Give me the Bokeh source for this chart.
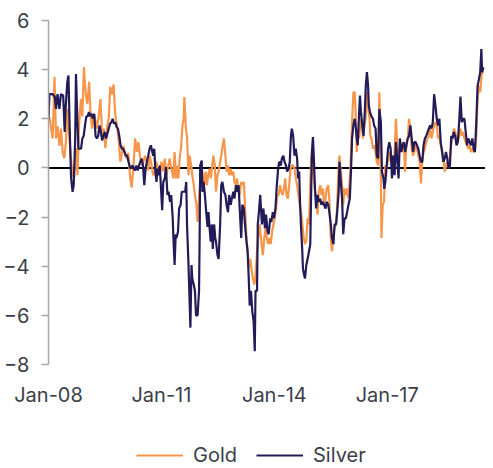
from bokeh.plotting import figure
from bokeh.layouts import column
from bokeh.models import Range1d, FixedTicker, Span, Legend, LegendItem
from bokeh.embed import file_html
from bokeh.resources import INLINE

# ---- data (decimal years) ----
gold_t = [
    2008.00, 2008.03, 2008.07, 2008.11, 2008.16, 2008.20, 2008.24, 2008.29, 2008.33, 2008.38,
    2008.42, 2008.46, 2008.51, 2008.53, 2008.59, 2008.64, 2008.68, 2008.73, 2008.77, 2008.81,
    2008.86, 2008.90, 2008.94, 2008.99, 2009.03, 2009.08, 2009.12, 2009.16, 2009.21, 2009.25,
    2009.29, 2009.34, 2009.38, 2009.43, 2009.47, 2009.51, 2009.56, 2009.60, 2009.64, 2009.69,
    2009.73, 2009.77, 2009.82, 2009.86, 2009.91, 2009.95, 2009.99, 2010.04, 2010.08, 2010.12,
    2010.17, 2010.21, 2010.26, 2010.30, 2010.35, 2010.39, 2010.43, 2010.48, 2010.52, 2010.56,
    2010.61, 2010.65, 2010.69, 2010.74,
    2010.78, 2010.83, 2010.87, 2010.91, 2010.96, 2011.00, 2011.04, 2011.09, 2011.13, 2011.17,
    2011.22, 2011.25, 2011.28, 2011.32, 2011.35, 2011.39, 2011.42, 2011.45, 2011.49, 2011.52,
    2011.56, 2011.59, 2011.61, 2011.65, 2011.68, 2011.72, 2011.75, 2011.79, 2011.82, 2011.86,
    2011.89, 2011.93, 2011.96, 2012.00, 2012.03, 2012.07, 2012.10, 2012.14, 2012.17, 2012.21,
    2012.24, 2012.28, 2012.31, 2012.35, 2012.38, 2012.42, 2012.45, 2012.49, 2012.52, 2012.56,
    2012.59, 2012.63, 2012.66, 2012.70, 2012.73, 2012.77, 2012.80, 2012.84, 2012.87, 2012.91,
    2012.94, 2012.98, 2013.01, 2013.05, 2013.08, 2013.12, 2013.15, 2013.19, 2013.22, 2013.26,
    2013.29, 2013.33, 2013.36, 2013.40, 2013.43, 2013.47, 2013.50, 2013.54, 2013.57, 2013.61,
    2013.66, 2013.695, 2013.73, 2013.765, 2013.80, 2013.835, 2013.87, 2013.905, 2013.94, 2013.975,
    2014.01, 2014.045, 2014.08, 2014.115, 2014.15, 2014.185, 2014.22, 2014.255, 2014.29, 2014.325,
    2014.36, 2014.395, 2014.43, 2014.465, 2014.50, 2014.535, 2014.57, 2014.605, 2014.64, 2014.675,
    2014.71, 2014.745, 2014.78, 2014.815, 2014.85, 2014.885, 2014.92, 2014.955, 2014.98, 2015.01,
    2015.04, 2015.08, 2015.11, 2015.15, 2015.18, 2015.22, 2015.25, 2015.29, 2015.32, 2015.36,
    2015.39, 2015.43, 2015.46, 2015.50, 2015.53, 2015.57, 2015.60, 2015.64, 2015.67, 2015.71,
    2015.73, 2015.76, 2015.80, 2015.83, 2015.865, 2015.90, 2015.935, 2015.97, 2016.005, 2016.04,
    2016.065, 2016.10, 2016.135, 2016.16, 2016.19, 2016.215, 2016.25, 2016.285, 2016.32, 2016.355,
    2016.39, 2016.425, 2016.46, 2016.495,
    2016.53, 2016.55, 2016.58, 2016.62, 2016.65, 2016.69, 2016.72, 2016.757, 2016.79, 2016.82,
    2016.845, 2016.88, 2016.915, 2016.95, 2016.985, 2017.02, 2017.055, 2017.09, 2017.125, 2017.16,
    2017.195, 2017.23, 2017.265, 2017.30, 2017.335, 2017.37, 2017.405, 2017.44, 2017.475, 2017.51,
    2017.545, 2017.58, 2017.615, 2017.65, 2017.685, 2017.72, 2017.755, 2017.79, 2017.825, 2017.86,
    2017.895, 2017.93, 2017.965, 2018.00, 2018.035, 2018.07, 2018.105, 2018.14, 2018.175, 2018.21,
    2018.245, 2018.28, 2018.315, 2018.35, 2018.385, 2018.42, 2018.455, 2018.49, 2018.525, 2018.56,
    2018.595, 2018.63, 2018.665, 2018.70, 2018.735, 2018.77, 2018.805, 2018.84, 2018.875, 2018.91,
    2018.945, 2018.98, 2019.015, 2019.05, 2019.085, 2019.12, 2019.155, 2019.19, 2019.225, 2019.26,
    2019.295, 2019.33, 2019.365, 2019.40, 2019.435, 2019.47, 2019.505, 2019.53, 2019.556,
]
gold_v = [
    2.0, 2.05, 1.6, 1.2, 3.7, 1.2, 1.7, 0.9, 1.6, 0.6,
    0.4, 1.0, 2.4, 1.8, 0.5, -0.3, -0.4, 0.8, -0.3, 1.7,
    2.8, 2.1, 4.1, 3.0, 2.6, 3.5, 2.1, 1.6, 2.2, 1.9,
    1.6, 2.2, 2.8, 1.2, 1.6, 0.8, 1.7, 2.0, 3.3, 3.0,
    3.4, 2.2, 1.7, 1.2, 0.25, 0.6, 0.9, 0.5, 0.4, 0.6,
    -0.4, -0.8, 0.1, 1.2, 0.65, 1.05, 0.5, 0.1, 0.25, 0.5,
    0.25, -0.1, 0.5, 0.1,
    -0.3, -0.15, 0.25, -0.15, -0.15, 0.25, -0.15, 0.38, -0.3, 0.0,
    0.38, 0.1, -0.15, -0.43, 0.65, -0.43, 0.1, -0.43, 0.5, 0.8,
    1.73, 2.0, 2.88, 1.6, 1.3, -0.3, 0.5, 0.1, -0.3, -0.7,
    -1.1, -1.5, -2.2, -1.25, -0.57, 0.1, -0.43, -0.7, -0.15, -0.7,
    -0.3, -0.03, -0.43, 0.1, 0.5, 0.1, -0.97, -0.3, -0.15, 0.25,
    0.5, 0.92, 1.2, 0.5, -0.15, 0.1, -0.3, -0.03, -0.3, -0.15,
    -0.57, -0.7, -0.43, -0.97, -1.1, -0.57, -0.7, -0.57, -1.5, -2.85,
    -3.4, -4.05, -3.7, -4.2, -4.5, -4.75, -4.35, -3.4, -2.85, -2.3,
    -3.1, -3.55, -2.9, -2.45, -2.85, -3.1, -2.85, -3.1, -2.6, -2.3,
    -2.05, -1.65, -1.1, -1.1, -0.7, -0.97, -1.1, -0.84, -0.43, -1.1,
    -1.25, -0.7, -0.03, 0.1, 0.1, -0.03, -0.43, -0.7, -1.1, -1.5,
    -1.8, -2.3, -2.85, -3.1, -2.95, -2.05, -2.3, -0.7, 0.5, 0.1,
    -0.3, -0.97, -1.25, -1.9, -0.97, -0.7, -1.1, -0.84, -1.5, -1.25,
    -0.84, -0.7, -1.25, -2.85, -3.4, -2.85, -2.45, -2.3, -1.5, 0.1,
    0.5, -0.03, -0.7, -1.5, -0.84, -1.1, -0.84, -1.25, -0.43, 0.65,
    1.86, 3.08, 3.08, 2.27, 0.65, 1.46, 1.2, 1.73, 2.0, 1.2,
    1.73, 2.0, 3.08, 2.4,
    2.0, 1.3, 1.2, 0.78, 0.92, 0.65, 0.25, 0.1, 3.08, 1.2,
    -2.85, -1.5, -1.38, 0.1, -0.03, 0.38, 0.65, 0.25, 0.5, 0.1,
    0.65, 2.0, 0.92, 0.5, 0.78, 1.05, 0.65, 0.92, -0.15, 1.05,
    1.2, 2.0, 1.6, 0.78, 0.5, 0.65, 0.92, 0.78, 0.5, 0.25,
    -0.63, 0.25, 0.65, 0.78, 1.05, 1.2, 1.3, 1.6, 1.2, 1.46,
    1.73, 1.86, 1.73, 1.2, 1.3, 0.92, 0.78, 0.38, -0.15, 0.1,
    0.25, 0.1, 0.5, 0.92, 1.3, 1.6, 1.46, 1.2, 1.05, 1.3,
    1.6, 1.3, 1.46, 1.2, 1.05, 0.92, 0.78, 0.92, 0.65, 0.78,
    0.65, 0.78, 1.3, 2.8, 3.35, 3.08, 3.75, 3.9, 3.9,
]

silver_t = [
    2008.00, 2008.025, 2008.11, 2008.165, 2008.20, 2008.24, 2008.29, 2008.33, 2008.39, 2008.43,
    2008.46, 2008.50, 2008.53, 2008.57, 2008.60, 2008.64, 2008.67, 2008.71, 2008.73, 2008.77,
    2008.795, 2008.83, 2008.865, 2008.90, 2008.935, 2008.97, 2009.005, 2009.04, 2009.075, 2009.11,
    2009.145, 2009.18, 2009.215, 2009.25, 2009.285, 2009.32, 2009.355, 2009.39, 2009.425, 2009.46,
    2009.495, 2009.53, 2009.565, 2009.60, 2009.635, 2009.67, 2009.705, 2009.74, 2009.775, 2009.81,
    2009.845, 2009.88, 2009.915, 2009.95, 2009.985, 2010.02, 2010.055, 2010.09, 2010.125, 2010.16,
    2010.195, 2010.23, 2010.265, 2010.30, 2010.335, 2010.37, 2010.405, 2010.44, 2010.475, 2010.51,
    2010.545, 2010.58, 2010.615, 2010.65, 2010.685, 2010.72,
    2010.78, 2010.81, 2010.84, 2010.87, 2010.895, 2010.93, 2010.955, 2010.98, 2011.02, 2011.05,
    2011.09, 2011.12, 2011.16, 2011.19, 2011.23, 2011.26, 2011.30, 2011.32, 2011.35, 2011.38,
    2011.40, 2011.44, 2011.47, 2011.51, 2011.54, 2011.59, 2011.63, 2011.66, 2011.68, 2011.72,
    2011.74, 2011.77, 2011.80, 2011.82, 2011.86, 2011.89, 2011.92, 2011.96, 2012.00, 2012.015,
    2012.03, 2012.07, 2012.09, 2012.12, 2012.155, 2012.19, 2012.225, 2012.25, 2012.28, 2012.31,
    2012.34, 2012.365, 2012.40, 2012.43, 2012.45, 2012.49, 2012.52, 2012.56, 2012.59, 2012.62,
    2012.66, 2012.70, 2012.73, 2012.77, 2012.80, 2012.84, 2012.87, 2012.91, 2012.94, 2012.98,
    2013.01, 2013.05, 2013.08, 2013.12, 2013.15, 2013.19, 2013.22, 2013.26, 2013.29, 2013.32,
    2013.345, 2013.38, 2013.415, 2013.45, 2013.48, 2013.50, 2013.54, 2013.56, 2013.59, 2013.625,
    2013.67, 2013.71, 2013.75, 2013.78, 2013.82, 2013.85, 2013.89, 2013.92, 2013.96, 2013.99,
    2014.03, 2014.06, 2014.10, 2014.13, 2014.17, 2014.20, 2014.24, 2014.27, 2014.31, 2014.34,
    2014.38, 2014.41, 2014.44, 2014.465, 2014.50, 2014.535, 2014.57, 2014.605, 2014.63, 2014.66,
    2014.685, 2014.71, 2014.74, 2014.76, 2014.79, 2014.815, 2014.85, 2014.885, 2014.92, 2014.955,
    2014.98, 2014.998, 2015.025, 2015.05, 2015.08, 2015.11, 2015.15, 2015.18, 2015.22, 2015.25,
    2015.29, 2015.32, 2015.36, 2015.39, 2015.43, 2015.46, 2015.50, 2015.53, 2015.57, 2015.60,
    2015.64, 2015.67, 2015.71, 2015.73, 2015.76, 2015.80, 2015.83, 2015.865, 2015.90, 2015.935,
    2015.97, 2016.005, 2016.04, 2016.065, 2016.10, 2016.135, 2016.16, 2016.19, 2016.215, 2016.25,
    2016.275, 2016.30, 2016.335, 2016.37, 2016.405, 2016.43, 2016.46, 2016.49, 2016.51,
    2016.54, 2016.58, 2016.62, 2016.65, 2016.69, 2016.72, 2016.757, 2016.79, 2016.83, 2016.86,
    2016.90, 2016.92, 2016.95, 2016.985, 2017.02, 2017.055, 2017.09, 2017.125, 2017.16, 2017.195,
    2017.23, 2017.265, 2017.30, 2017.335, 2017.37, 2017.405, 2017.44, 2017.475, 2017.51, 2017.545,
    2017.58, 2017.615, 2017.65, 2017.685, 2017.72, 2017.755, 2017.79, 2017.825, 2017.86, 2017.895,
    2017.93, 2017.965, 2018.00, 2018.035, 2018.07, 2018.105, 2018.14, 2018.175, 2018.21, 2018.245,
    2018.28, 2018.315, 2018.35, 2018.385, 2018.42, 2018.455, 2018.49, 2018.525, 2018.56, 2018.595,
    2018.63, 2018.665, 2018.70, 2018.735, 2018.77, 2018.805, 2018.84, 2018.875, 2018.91, 2018.945,
    2018.98, 2019.015, 2019.05, 2019.085, 2019.12, 2019.155, 2019.19, 2019.225, 2019.26, 2019.295,
    2019.33, 2019.365, 2019.40, 2019.435, 2019.47, 2019.50, 2019.52, 2019.556,
]
silver_v = [
    2.0, 3.0, 3.0, 2.9, 2.4, 3.0, 2.4, 3.0, 2.95, 1.46,
    2.55, 3.5, 3.76, 1.2, -0.4, -0.97, -0.7, 1.2, 3.82, 1.86,
    0.78, 0.78, 0.78, 1.2, 1.3, 1.73, 2.1, 2.1, 2.27, 2.1,
    2.2, 2.0, 2.2, 1.3, 1.2, 1.3, 1.73, 1.46, 1.12, 1.3,
    1.46, 1.2, 1.4, 1.6, 1.8, 1.86, 2.0, 1.8, 1.86, 1.66,
    1.6, 1.3, 0.92, 0.78, 0.78, 0.65, 0.5, 0.5, 0.25, 0.05,
    -0.03, 0.1, -0.03, -0.1, 0.1, -0.1, 0.1, 0.25, 0.38, 0.1,
    -0.7, -0.03, 0.25, 0.5, 0.78, 0.92,
    0.5, 0.78, -0.15, -0.57, -0.03, -0.3, 0.1, -0.57, -1.72, -0.57,
    -0.43, 0.04, -1.1, -0.97, -1.38, -1.1, -2.05, -2.9, -3.95, -2.7,
    -2.85, -2.6, -1.65, -1.5, -0.97, -0.97, -0.97, -0.57, -2.3, -3.95,
    -5.0, -6.5, -3.95, -4.5, -4.75, -5.0, -6.0, -6.0, -5.0, -2.85,
    0.1, 0.3, -0.97, -0.57, -1.1, -1.8, -2.4, -1.8, -2.45, -3.0,
    -2.3, -3.3, -2.3, -2.85, -3.0, -3.55, -3.7, -2.3, -0.7, -0.57,
    -0.97, -1.1, -1.5, -1.8, -1.1, -1.5, -1.25, -0.97, -1.25, -0.7,
    -0.97, -0.7, -1.65, -2.85, -1.5, -1.65, -2.3, -3.0, -3.4, -4.5,
    -5.6, -5.0, -5.85, -6.25, -7.46, -5.0, -5.0, -2.3, -1.8, -1.1,
    -2.3, -1.65, -2.45, -1.9, -2.6, -2.7, -2.05, -2.2, -1.8, -2.05,
    -1.65, -0.84, -0.03, 0.25, 0.1, 0.38, 0.5, 0.25, 0.1, -0.15,
    -0.03, 0.25, 1.3, 1.6, 1.3, 0.5, 0.78, 0.38, -0.43, -0.15,
    -1.5, -2.45, -3.3, -4.1, -4.35, -4.5, -3.95, -3.7, -3.4, -3.1,
    -0.84, 0.65, 1.26, 0.38, -0.84, -1.65, -1.1, -1.38, -1.25, -1.5,
    -1.38, -1.5, -1.65, -1.38, -1.5, -1.78, -2.3, -2.85, -3.1, -2.3,
    -2.3, -1.78, -0.97, 0.25, -0.43, -1.25, -2.7, -2.05, -2.05, -1.78,
    -1.5, -1.25, 0.0, 1.2, 1.73, 2.0, 1.73, 1.2, 0.92, 2.15,
    2.95, 2.3, 1.73, 1.3, 2.35, 3.35, 3.9, 3.35, 2.55,
    2.27, 2.1, 2.0, 1.73, 1.6, 0.5, 0.38, 2.4, 1.86, -0.15,
    -0.43, -0.85, -0.57, 0.1, 0.78, 1.05, 0.78, -0.43, 0.5, -0.3,
    1.05, 0.38, -0.43, 1.2, 0.65, 0.92, 1.05, 0.65, 0.92, 1.2,
    1.3, 1.73, 1.2, 0.65, 1.05, 1.05, 0.92, 0.78, 0.5, 0.25,
    0.25, 0.92, 1.2, 1.3, 1.46, 1.6, 1.73, 1.6, 1.86, 3.0,
    2.55, 2.0, 1.73, 2.0, 1.05, 0.65, 0.25, 0.38, 0.65, 0.38,
    -0.03, 0.1, 1.3, 1.2, 1.46, 1.3, 0.92, 1.05, 1.86, 2.9,
    1.86, 2.0, 2.0, 1.46, 0.92, 1.2, 1.05, 0.92, 1.2, 0.78,
    0.65, 1.86, 3.35, 3.6, 3.9, 4.84, 3.9, 4.1,
]

y_ticks = [-8, -6, -4, -2, 0, 2, 4, 6]
x_tick_years = [2008, 2011, 2014, 2017]
x_tick_labels = ["Jan-08", "Jan-11", "Jan-14", "Jan-17"]
series_names = ["Gold", "Silver"]

GOLD = "#F7964A"
SILVER = "#221B57"
TEXT = "#3a3e49"
AXIS = "#a6a6a6"
FONT = "Inter"

# ---------------- main chart ----------------
p = figure(width=485, height=420, output_backend="svg", toolbar_location=None,
           x_range=Range1d(2008.0, 2019.61), y_range=Range1d(-8, 6),
           min_border_left=43, min_border_right=0, min_border_top=20,
           min_border_bottom=56)
p.outline_line_color = None
p.xgrid.visible = False
p.ygrid.visible = False
p.background_fill_color = "white"
p.border_fill_color = "white"

zero = Span(location=0, dimension="width", line_color="black", line_width=2, level="underlay")
p.add_layout(zero)

r_gold = p.line(gold_t, gold_v, line_color=GOLD, line_width=2.2)
r_silver = p.line(silver_t, silver_v, line_color=SILVER, line_width=2.2)

p.yaxis.ticker = FixedTicker(ticks=y_ticks)
p.yaxis.axis_line_color = AXIS
p.yaxis.axis_line_width = 1.5
p.yaxis.major_tick_line_color = AXIS
p.yaxis.major_tick_line_width = 1.5
p.yaxis.major_tick_out = 7
p.yaxis.major_tick_in = 0
p.yaxis.minor_tick_line_color = None
p.yaxis.major_label_standoff = 12
p.yaxis.major_label_text_font = FONT
p.yaxis.major_label_text_font_size = "20px"
p.yaxis.major_label_text_color = TEXT

p.xaxis.ticker = FixedTicker(ticks=x_tick_years)
p.xaxis.major_label_overrides = dict(zip(x_tick_years, x_tick_labels))
p.xaxis.axis_line_color = None
p.xaxis.major_tick_line_color = None
p.xaxis.minor_tick_line_color = None
p.xaxis.major_tick_out = 0
p.xaxis.major_tick_in = 0
p.xaxis.major_label_standoff = 18
p.xaxis.major_label_text_font = FONT
p.xaxis.major_label_text_font_size = "20px"
p.xaxis.major_label_text_color = TEXT

# ---------------- legend strip ----------------
# the same series are drawn here but lie outside this strip's ranges; only the legend keys show
lg = figure(width=485, height=48, output_backend="svg", toolbar_location=None,
            x_range=Range1d(0, 1), y_range=Range1d(0, 1),
            min_border_left=0, min_border_right=0, min_border_top=0, min_border_bottom=0)
lg.axis.visible = False
lg.grid.visible = False
lg.outline_line_color = None
lg.background_fill_color = "white"
lg.border_fill_color = "white"
k_gold = lg.line(gold_t, gold_v, line_color=GOLD, line_width=2.2)
k_silver = lg.line(silver_t, silver_v, line_color=SILVER, line_width=2.2)

legend = Legend(items=[LegendItem(label=series_names[0], renderers=[k_gold]),
                       LegendItem(label=series_names[1], renderers=[k_silver])],
                orientation="horizontal", location=(88, 1),
                glyph_width=47, glyph_height=20, label_height=20,
                label_standoff=10, spacing=19, padding=0, margin=0,
                border_line_color=None, background_fill_alpha=0,
                label_text_font=FONT, label_text_font_size="20px",
                label_text_color=TEXT)
lg.add_layout(legend)

layout = column(p, lg, spacing=0)
open("out.html", "w").write(file_html(layout, INLINE))
